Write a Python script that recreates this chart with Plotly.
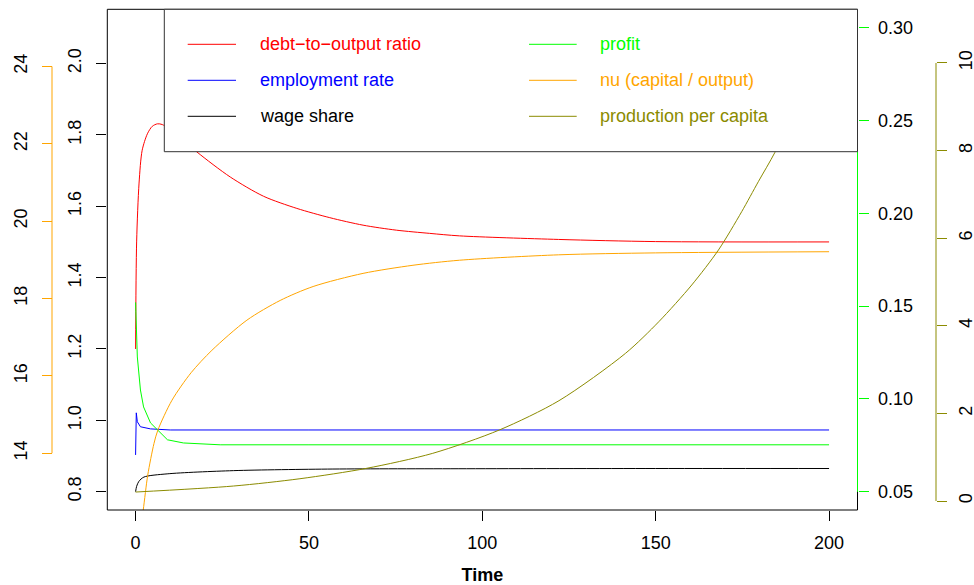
import plotly.graph_objects as go

# ---------------- data ----------------
t_debt = [0, 0.3, 1.0, 1.9, 3.4, 4.8, 6.3, 7.7, 12, 17.7, 27.3, 36.9, 46.5, 56.0,
          65.6, 75.2, 84.8, 93.4, 122, 150, 200]
debt = [1.20, 1.50, 1.665, 1.757, 1.803, 1.824, 1.831, 1.829, 1.80, 1.752, 1.682,
        1.628, 1.594, 1.568, 1.547, 1.533, 1.524, 1.517, 1.507, 1.501, 1.500]

t_emp = [0, 0.2, 0.5, 1.4, 4.3, 10, 50, 100, 150, 200]
emp = [0.903, 1.021, 0.996, 0.982, 0.976, 0.973, 0.973, 0.973, 0.973, 0.973]

t_wage = [0, 0.3, 0.95, 2.4, 9.1, 28.2, 56.9, 95.4, 150, 200]
wage = [0.800, 0.815, 0.829, 0.841, 0.850, 0.859, 0.8635, 0.8644, 0.865, 0.865]

t_profit = [0, 0.25, 0.5, 1.4, 2.3, 4.3, 9.2, 13.8, 24.4, 50, 100, 150, 200]
profit = [0.152, 0.128, 0.1226, 0.1048, 0.0957, 0.0871, 0.0780, 0.0763, 0.0753,
          0.0753, 0.0753, 0.0753, 0.0753]

t_nu = [0, 1.0, 2.2, 3.5, 5.3, 6.4, 10.5, 16, 22.0, 32.1, 41.7, 51.2, 65.6, 80.0,
        93.4, 122, 150, 200]
nu = [10.6, 11.8, 12.53, 13.43, 14.25, 14.59, 15.37, 16.08, 16.66, 17.44, 17.95,
      18.31, 18.65, 18.86, 18.99, 19.13, 19.18, 19.21]

t_prod = [0, 28.2, 47.4, 66.6, 85.7, 104.9, 122.1, 141.3, 150.9, 160.4, 168.1,
          174.8, 179.6, 184.4, 190, 200]
prod = [0.205, 0.342, 0.509, 0.746, 1.089, 1.621, 2.29, 3.372, 4.094, 4.932,
        5.731, 6.605, 7.290, 7.961, 8.9, 10.9]

x_ticks = [0, 50, 100, 150, 200]
left_ticks = [0.8, 1.0, 1.2, 1.4, 1.6, 1.8, 2.0]
profit_ticks = [0.05, 0.10, 0.15, 0.20, 0.25, 0.30]
nu_ticks = [14, 16, 18, 20, 22, 24]
prod_ticks = [0, 2, 4, 6, 8, 10]

names = ["debt\u2212to\u2212output ratio", "employment rate", "wage share",
         "profit", "nu (capital / output)", "production per capita"]
colors = ["#FF0000", "#0000FF", "#000000", "#00FF00", "#FFA500", "#8B8B00"]

# ---------------- geometry ----------------
W, H = 974, 585
PL, PR, PT, PB = 107.3, 857.5, 9.3, 510
FONT = "Liberation Sans, Arial, sans-serif"
FS = 18


def px_x(p):
    return p / W


def px_y(p):
    return 1 - p / H


smooth = dict(shape="spline", smoothing=0.8)

fig = go.Figure()
fig.add_trace(go.Scatter(x=t_debt, y=debt, mode="lines", name=names[0],
                         line=dict(color=colors[0], width=1, **smooth), yaxis="y"))
fig.add_trace(go.Scatter(x=t_emp, y=emp, mode="lines", name=names[1],
                         line=dict(color=colors[1], width=1), yaxis="y"))
fig.add_trace(go.Scatter(x=t_wage, y=wage, mode="lines", name=names[2],
                         line=dict(color=colors[2], width=1, **smooth), yaxis="y"))
fig.add_trace(go.Scatter(x=t_profit, y=profit, mode="lines", name=names[3],
                         line=dict(color=colors[3], width=1), yaxis="y2"))
fig.add_trace(go.Scatter(x=t_nu, y=nu, mode="lines", name=names[4],
                         line=dict(color=colors[4], width=1, **smooth), yaxis="y3"))
fig.add_trace(go.Scatter(x=t_prod, y=prod, mode="lines", name=names[5],
                         line=dict(color=colors[5], width=1, **smooth), yaxis="y4"))

tickfont = dict(family=FONT, size=FS, color="black")
common = dict(showgrid=False, zeroline=False, showline=False, ticks="outside",
              ticklen=10, tickwidth=1, tickfont=tickfont, automargin=False)

fig.update_layout(
    width=W, height=H,
    margin=dict(l=0, r=0, t=0, b=0),
    paper_bgcolor="white", plot_bgcolor="white",
    font=dict(family=FONT, size=FS, color="black"),
    showlegend=False,
    xaxis=dict(domain=[px_x(PL), px_x(PR)], range=[-8.16, 208.2],
               tickvals=x_ticks, tickcolor="black", ticklabelstandoff=6,
               title=dict(text="<b>Time</b>", font=dict(family=FONT, size=FS),
                          standoff=22),
               **common),
    yaxis=dict(domain=[px_y(PB), px_y(PT)], range=[0.7487, 2.152],
               tickvals=left_ticks, ticktext=[f"{v:.1f}" for v in left_ticks],
               tickangle=-90, tickcolor="black", ticklabelstandoff=8, **common),
    yaxis2=dict(overlaying="y", side="right", anchor="x", range=[0.0402, 0.3098],
                tickvals=profit_ticks, ticktext=[f"{v:.2f}" for v in profit_ticks],
                tickcolor="#00FF00", ticklabelstandoff=6, **common),
    yaxis3=dict(overlaying="y", side="left", anchor="free", position=px_x(52),
                range=[12.53, 25.48], tickvals=nu_ticks,
                ticktext=[str(v) for v in nu_ticks], tickangle=-90,
                tickcolor="#FFA500", ticklabelstandoff=8, **common),
    yaxis4=dict(overlaying="y", side="right", anchor="free", position=px_x(936),
                range=[-0.205, 11.225], tickvals=prod_ticks,
                ticktext=[str(v) for v in prod_ticks], tickangle=-90,
                tickcolor=colors[5], ticklabelstandoff=3, **common),
)

shapes = []
# plot box
shapes.append(dict(type="rect", xref="paper", yref="paper",
                   x0=px_x(PL), x1=px_x(PR), y0=px_y(PB), y1=px_y(PT),
                   line=dict(color="black", width=1), layer="above"))
# coloured axis lines spanning first..last tick
shapes.append(dict(type="line", xref="paper", yref="y2", x0=px_x(PR), x1=px_x(PR),
                   y0=profit_ticks[0], y1=profit_ticks[-1],
                   line=dict(color="#00FF00", width=1), layer="above"))
shapes.append(dict(type="line", xref="paper", yref="y3", x0=px_x(52), x1=px_x(52),
                   y0=nu_ticks[0], y1=nu_ticks[-1],
                   line=dict(color="#FFA500", width=1), layer="above"))
shapes.append(dict(type="line", xref="paper", yref="y4", x0=px_x(936), x1=px_x(936),
                   y0=prod_ticks[0], y1=prod_ticks[-1],
                   line=dict(color=colors[5], width=1), layer="above"))
# legend box
shapes.append(dict(type="rect", xref="paper", yref="paper",
                   x0=px_x(164.3), x1=px_x(PR), y0=px_y(151.7), y1=px_y(PT),
                   fillcolor="white", line=dict(color="#333333", width=1),
                   layer="above"))

annotations = []
row_y = [44.3, 80.3, 116.3]
col_line = [(187.7, 236.0), (529.0, 576.7)]
col_text = [258.0, 598.0]
for i, (nm, c) in enumerate(zip(names, colors)):
    col, row = divmod(i, 3)
    y = px_y(row_y[row])
    x0, x1 = col_line[col]
    shapes.append(dict(type="line", xref="paper", yref="paper",
                       x0=px_x(x0), x1=px_x(x1), y0=y, y1=y,
                       line=dict(color=c, width=1), layer="above"))
    annotations.append(dict(xref="paper", yref="paper", x=px_x(col_text[col]), y=y,
                            xanchor="left", yanchor="middle", showarrow=False,
                            text=nm, font=dict(family=FONT, size=FS, color=c)))

fig.update_layout(shapes=shapes, annotations=annotations)
fig.write_html("out.html",
               config={"displayModeBar": False},
               post_script="document.body.style.margin='0';"
                           "document.body.style.padding='0';")
